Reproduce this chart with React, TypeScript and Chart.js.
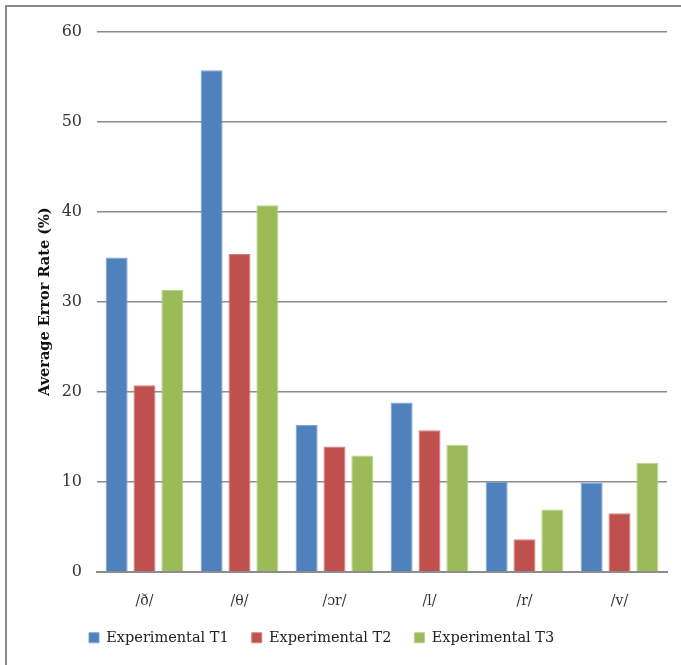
import React, { useEffect, useRef } from "react";
import { Chart, registerables } from "chart.js";

Chart.register(...registerables);

// Phoneme categories and average error rates (%) per session
const categories = ["/ð/", "/θ/", "/ɔr/", "/l/", "/r/", "/v/"];
const seriesT1 = [34.9, 55.7, 16.3, 18.8, 10.0, 9.9];
const seriesT2 = [20.7, 35.3, 13.9, 15.7, 3.6, 6.5];
const seriesT3 = [31.3, 40.7, 12.9, 14.1, 6.9, 12.1];
const seriesNames = ["Experimental T1", "Experimental T2", "Experimental T3"];
const yTicks = [0, 10, 20, 30, 40, 50, 60];

const COLORS = ["#4F81BD", "#C0504D", "#9BBB59"];
const EDGES = ["#7fa3d3", "#d57f7d", "#b9d38a"];
const FONT = "'DejaVu Serif', 'Liberation Serif', serif";

// Places the legend row at a fixed start offset and lifts it closer to the axis labels
const legendOffset = {
  id: "legendOffset",
  afterLayout(chart: any) {
    const lg = chart.legend;
    if (!lg) return;
    const pad = lg.options.labels.padding;
    const w = lg.right - lg.left;
    lg.left = 82 - pad;
    lg.right = lg.left + w;
    lg.top -= 23;
    lg.bottom -= 23;
  },
};

export default function App() {
  const ref = useRef<HTMLCanvasElement | null>(null);

  useEffect(() => {
    document.documentElement.style.overflow = "hidden";
    document.body.style.overflow = "hidden";
    if (!ref.current) return;
    const data = [seriesT1, seriesT2, seriesT3];
    const chart = new Chart(ref.current, {
      type: "bar",
      data: {
        labels: categories,
        datasets: data.map((d, i) => ({
          label: seriesNames[i],
          data: d,
          backgroundColor: COLORS[i],
          borderColor: EDGES[i],
          borderWidth: 1,
          categoryPercentage: 0.88,
          barPercentage: 0.79,
        })),
      },
      options: {
        animation: false,
        responsive: true,
        maintainAspectRatio: false,
        layout: { padding: { left: 26, top: 12, right: 14, bottom: -13 } },
        plugins: {
          legend: {
            position: "bottom",
            align: "start",
            labels: {
              boxWidth: 10,
              boxHeight: 10,
              padding: 23,
              color: "#222",
              font: { family: FONT, size: 14.5 },
            },
          },
          tooltip: { enabled: false },
        },
        scales: {
          x: {
            grid: { display: false, drawTicks: false },
            border: { display: true, color: "#8c8c8c", width: 2 },
            ticks: { color: "#333", font: { family: FONT, size: 14 }, padding: 21 },
          },
          y: {
            min: 0,
            max: 60,
            afterBuildTicks(axis: any) {
              axis.ticks = yTicks.map((v) => ({ value: v }));
            },
            afterFit(axis: any) {
              axis.width = 64;
            },
            grid: { color: "#8c8c8c", lineWidth: 1.5, drawTicks: false },
            border: { display: false },
            ticks: { color: "#333", font: { family: FONT, size: 16 }, padding: 15 },
            title: {
              display: true,
              text: "Average Error Rate (%)",
              color: "#111",
              font: { family: FONT, size: 14.5, weight: "bold" },
              padding: { top: 4, bottom: 4 },
            },
          },
        },
      },
      plugins: [legendOffset],
    });
    return () => chart.destroy();
  }, []);

  return (
    <div
      style={{
        position: "fixed",
        left: 5,
        top: 5,
        width: 676,
        height: 660,
        overflow: "hidden",
        borderTop: "2px solid #8a8a8a",
        borderLeft: "2px solid #8a8a8a",
        background: "#fff",
      }}
    >
      <div style={{ position: "relative", width: 674, height: 658 }}>
        <canvas ref={ref} />
      </div>
    </div>
  );
}
